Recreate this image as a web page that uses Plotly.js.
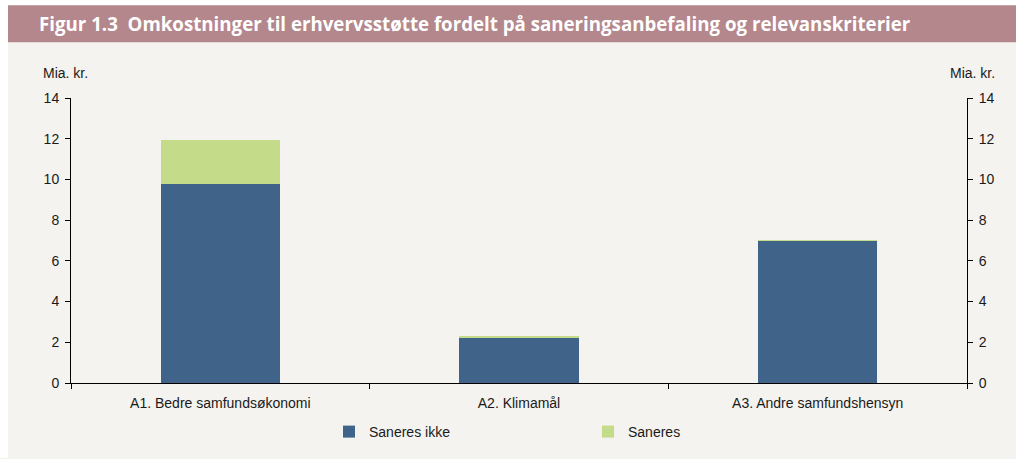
<!DOCTYPE html>
<html>
<head>
<meta charset="utf-8">
<script src="https://cdn.plot.ly/plotly-3.0.1.min.js"></script>
<style>
html,body{margin:0;padding:0;background:#fff;}
#chart{width:1016px;height:459px;}
</style>
</head>
<body>
<div id="chart"></div>
<script>
const categories = ["A1. Bedre samfundsøkonomi", "A2. Klimamål", "A3. Andre samfundshensyn"];
const saneresIkke = [9.78, 2.19, 6.96];
const saneres = [2.15, 0.12, 0.07];
const yTicks = [0, 2, 4, 6, 8, 10, 12, 14];
const titleText = "Figur 1.3  Omkostninger til erhvervsstøtte fordelt på saneringsanbefaling og relevanskriterier";
const unitLabel = "Mia. kr.";

const W = 1016, H = 459;
const mL = 71, mR = 49, mT = 98, mB = 75;
const pw = W - mL - mR, ph = H - mT - mB;
const px = v => (v - mL) / pw;
const py = v => (H - mB - v) / ph;

const font = {family: "Arial, sans-serif", size: 14, color: "#1a1a1a"};

const traces = [
  {type: "bar", name: "Saneres ikke", x: categories, y: saneresIkke,
   marker: {color: "#3F6389"}, hoverinfo: "skip"},
  {type: "bar", name: "Saneres", x: categories, y: saneres,
   marker: {color: "#C4DC8A"}, hoverinfo: "skip"},
  {type: "scatter", mode: "markers", x: categories, y: saneresIkke, yaxis: "y2",
   marker: {opacity: 0}, showlegend: false, hoverinfo: "skip"}
];

const yCommon = {
  range: [0, 14], tickvals: yTicks, ticks: "outside", ticklen: 5, tickwidth: 1,
  tickcolor: "#000", showline: true, linecolor: "#000", linewidth: 1,
  showgrid: false, zeroline: false, tickfont: font, fixedrange: true
};

const layout = {
  width: W, height: H,
  margin: {l: mL, r: mR, t: mT, b: mB, pad: 0},
  paper_bgcolor: "#F4F3EF",
  plot_bgcolor: "rgba(0,0,0,0)",
  barmode: "stack",
  bargap: 0.6,
  showlegend: true,
  legend: {orientation: "h", x: px(329), y: py(432), xanchor: "left", yanchor: "middle",
           font: font, bgcolor: "rgba(0,0,0,0)", entrywidth: 214, entrywidthmode: "pixels",
           traceorder: "normal"},
  xaxis: {type: "category", showline: true, linecolor: "#000", linewidth: 1,
          ticks: "outside", tickson: "boundaries", ticklen: 5, tickcolor: "#000",
          ticklabelstandoff: 7,
          tickfont: font, showgrid: false, zeroline: false, fixedrange: true},
  yaxis: Object.assign({side: "left", ticklabelstandoff: 3}, yCommon),
  yaxis2: Object.assign({side: "right", overlaying: "y", ticklabelstandoff: 3}, yCommon),
  shapes: [
    {type: "rect", xref: "paper", yref: "paper", x0: px(0), x1: px(W), y0: py(0), y1: py(5),
     fillcolor: "#FFFFFF", line: {width: 0}, layer: "below"},
    {type: "rect", xref: "paper", yref: "paper", x0: px(0), x1: px(8), y0: py(0), y1: py(H),
     fillcolor: "#FFFFFF", line: {width: 0}, layer: "below"},
    {type: "rect", xref: "paper", yref: "paper", x0: px(8), x1: px(W), y0: py(5), y1: py(42),
     fillcolor: "#B4878C", line: {width: 0}, layer: "below"}
  ],
  annotations: [
    {text: "<b>" + titleText + "</b>", xref: "paper", yref: "paper", x: px(37), y: py(23.5),
     xanchor: "left", yanchor: "middle", showarrow: false,
     font: {family: "Open Sans, sans-serif", size: 18.7, color: "#FFFFFF"}},
    {text: unitLabel, xref: "paper", yref: "paper", x: px(41), y: py(73),
     xanchor: "left", yanchor: "middle", showarrow: false, font: font},
    {text: unitLabel, xref: "paper", yref: "paper", x: px(997), y: py(73),
     xanchor: "right", yanchor: "middle", showarrow: false, font: font}
  ]
};

Plotly.newPlot("chart", traces, layout, {displayModeBar: false, staticPlot: true});
</script>
</body>
</html>
